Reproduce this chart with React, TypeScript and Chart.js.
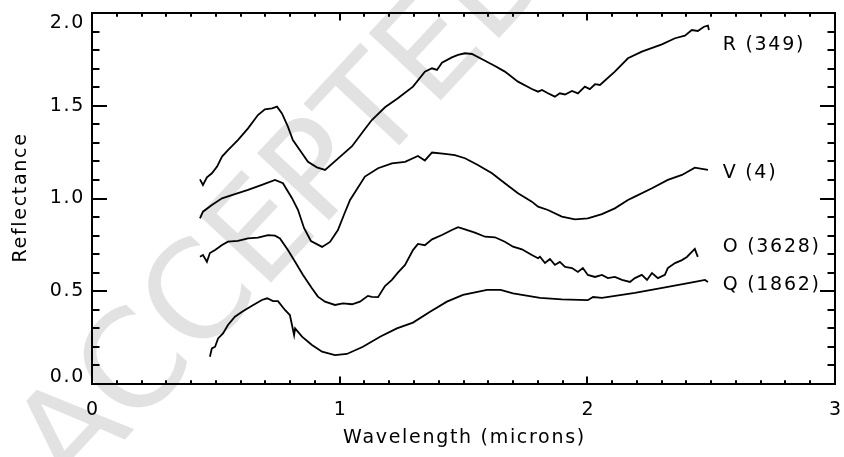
import React, { useEffect, useRef } from "react";
import { Chart, registerables } from "chart.js";

Chart.register(...registerables);

// ---- data (wavelength in microns, reflectance) ----
const rWave = [0.436, 0.448, 0.464, 0.484, 0.505, 0.525, 0.549, 0.589, 0.630, 0.670, 0.698, 0.727, 0.747, 0.767, 0.791, 0.811, 0.848, 0.872, 0.908, 0.941, 0.993, 1.050, 1.102, 1.130, 1.183, 1.235, 1.296, 1.344, 1.373, 1.393, 1.413, 1.453, 1.478, 1.506, 1.534, 1.587, 1.627, 1.667, 1.720, 1.776, 1.801, 1.817, 1.841, 1.869, 1.889, 1.910, 1.938, 1.962, 1.990, 2.010, 2.031, 2.051, 2.111, 2.164, 2.220, 2.301, 2.354, 2.394, 2.422, 2.446, 2.471, 2.487, 2.491];
const rRefl = [1.103, 1.073, 1.114, 1.136, 1.172, 1.226, 1.261, 1.315, 1.378, 1.450, 1.481, 1.486, 1.495, 1.459, 1.387, 1.315, 1.244, 1.198, 1.168, 1.154, 1.215, 1.282, 1.375, 1.423, 1.492, 1.540, 1.603, 1.684, 1.702, 1.693, 1.732, 1.761, 1.774, 1.783, 1.779, 1.743, 1.714, 1.684, 1.630, 1.590, 1.576, 1.585, 1.567, 1.549, 1.567, 1.561, 1.580, 1.567, 1.603, 1.590, 1.616, 1.612, 1.684, 1.756, 1.792, 1.831, 1.864, 1.878, 1.908, 1.903, 1.926, 1.932, 1.908];

const vWave = [0.436, 0.448, 0.484, 0.525, 0.577, 0.630, 0.686, 0.739, 0.771, 0.807, 0.832, 0.856, 0.884, 0.929, 0.961, 0.993, 1.017, 1.042, 1.102, 1.155, 1.211, 1.264, 1.316, 1.344, 1.373, 1.425, 1.465, 1.506, 1.558, 1.615, 1.667, 1.720, 1.776, 1.801, 1.841, 1.897, 1.950, 2.002, 2.059, 2.111, 2.164, 2.192, 2.261, 2.325, 2.382, 2.434, 2.487];
const vRefl = [0.893, 0.929, 0.965, 1.001, 1.024, 1.046, 1.073, 1.100, 1.082, 1.003, 0.938, 0.841, 0.771, 0.739, 0.766, 0.830, 0.911, 0.992, 1.118, 1.163, 1.189, 1.198, 1.229, 1.205, 1.248, 1.240, 1.234, 1.217, 1.181, 1.136, 1.082, 1.028, 0.983, 0.956, 0.938, 0.902, 0.888, 0.893, 0.916, 0.947, 0.992, 1.010, 1.055, 1.100, 1.127, 1.166, 1.154];

const oWave = [0.436, 0.448, 0.464, 0.476, 0.497, 0.525, 0.549, 0.589, 0.630, 0.670, 0.711, 0.739, 0.759, 0.791, 0.820, 0.852, 0.888, 0.912, 0.941, 0.981, 1.013, 1.050, 1.082, 1.114, 1.130, 1.155, 1.183, 1.211, 1.235, 1.264, 1.296, 1.316, 1.344, 1.373, 1.413, 1.453, 1.478, 1.506, 1.546, 1.587, 1.627, 1.667, 1.700, 1.736, 1.776, 1.801, 1.809, 1.829, 1.849, 1.869, 1.889, 1.910, 1.938, 1.962, 1.982, 2.002, 2.031, 2.059, 2.083, 2.111, 2.140, 2.172, 2.192, 2.220, 2.241, 2.261, 2.285, 2.313, 2.325, 2.354, 2.382, 2.402, 2.422, 2.434, 2.446];
const oRefl = [0.686, 0.695, 0.659, 0.706, 0.722, 0.749, 0.767, 0.771, 0.785, 0.789, 0.803, 0.800, 0.785, 0.722, 0.659, 0.588, 0.516, 0.471, 0.444, 0.426, 0.435, 0.430, 0.444, 0.475, 0.470, 0.468, 0.528, 0.561, 0.600, 0.642, 0.722, 0.755, 0.748, 0.780, 0.803, 0.830, 0.845, 0.834, 0.816, 0.794, 0.791, 0.767, 0.740, 0.726, 0.695, 0.678, 0.686, 0.652, 0.674, 0.642, 0.658, 0.631, 0.625, 0.604, 0.625, 0.588, 0.577, 0.588, 0.571, 0.577, 0.561, 0.550, 0.571, 0.588, 0.561, 0.598, 0.571, 0.588, 0.625, 0.652, 0.668, 0.685, 0.712, 0.728, 0.685];

const qWave = [0.476, 0.484, 0.497, 0.509, 0.529, 0.549, 0.577, 0.606, 0.646, 0.686, 0.707, 0.731, 0.751, 0.779, 0.799, 0.816, 0.820, 0.848, 0.888, 0.929, 0.981, 1.029, 1.094, 1.163, 1.231, 1.296, 1.365, 1.433, 1.498, 1.595, 1.650, 1.700, 1.809, 1.897, 2.002, 2.023, 2.059, 2.192, 2.325, 2.434, 2.475, 2.487];
const qRefl = [0.147, 0.192, 0.201, 0.246, 0.273, 0.318, 0.363, 0.390, 0.422, 0.453, 0.462, 0.447, 0.447, 0.399, 0.372, 0.264, 0.300, 0.255, 0.210, 0.174, 0.156, 0.162, 0.201, 0.255, 0.300, 0.331, 0.390, 0.444, 0.480, 0.507, 0.507, 0.489, 0.464, 0.456, 0.452, 0.469, 0.464, 0.491, 0.523, 0.550, 0.561, 0.550];

const seriesNames = ["R (349)", "V (4)", "O (3628)", "Q (1862)"];
const labelWave = 2.547;
const labelRefl = [1.827, 1.137, 0.739, 0.534];

const xMajorTicks = [0, 1, 2, 3];
const yMajorTicks = [0.0, 0.5, 1.0, 1.5, 2.0];
const xTitle = "Wavelength (microns)";
const yTitle = "Reflectance";
const watermarkText = "ACCEPTED MANUSCRIPT";

const FONT = "'DejaVu Sans', sans-serif";

function toPoints(xs: number[], ys: number[]) {
  return xs.map((x, i) => ({ x, y: ys[i] }));
}

const watermarkPlugin = {
  id: "watermark",
  beforeDatasetsDraw(chart: any) {
    const ctx = chart.ctx as CanvasRenderingContext2D;
    ctx.save();
    ctx.translate(72, 496);
    ctx.rotate((-47 * Math.PI) / 180);
    ctx.font = `135px ${FONT}`;
    ctx.fillStyle = "#e2e2e2";
    ctx.textAlign = "left";
    ctx.textBaseline = "alphabetic";
    ctx.fillText(watermarkText, 0, 0);
    ctx.restore();
  },
};

const axesPlugin = {
  id: "idlAxes",
  afterDatasetsDraw(chart: any) {
    const ctx = chart.ctx as CanvasRenderingContext2D;
    const { left, right, top, bottom } = chart.chartArea;
    const xs = chart.scales.x;
    const ys = chart.scales.y;
    ctx.save();
    ctx.strokeStyle = "#000";
    ctx.fillStyle = "#000";
    ctx.lineWidth = 2;
    ctx.lineCap = "butt";
    ctx.strokeRect(left, top, right - left, bottom - top);

    // x ticks (inward, bottom and top)
    ctx.beginPath();
    for (let i = 0; i <= 30; i++) {
      const px = Math.round(xs.getPixelForValue(i / 10));
      const len = i % 10 === 0 ? 7.5 : 3.8;
      ctx.moveTo(px, bottom);
      ctx.lineTo(px, bottom - len);
      ctx.moveTo(px, top);
      ctx.lineTo(px, top + len);
    }
    // y ticks (inward, left and right)
    for (let i = 0; i <= 20; i++) {
      const py = Math.round(ys.getPixelForValue(i / 10));
      const len = i % 5 === 0 ? 15 : 7.5;
      ctx.moveTo(left, py);
      ctx.lineTo(left + len, py);
      ctx.moveTo(right, py);
      ctx.lineTo(right - len, py);
    }
    ctx.stroke();

    ctx.font = `19px ${FONT}`;
    (ctx as any).letterSpacing = "1.7px";
    // x tick labels
    ctx.textAlign = "center";
    ctx.textBaseline = "middle";
    xMajorTicks.forEach((v) => {
      ctx.fillText(String(v), xs.getPixelForValue(v) + 1, 410);
    });
    // y tick labels
    ctx.textAlign = "right";
    yMajorTicks.forEach((v) => {
      let py = ys.getPixelForValue(v);
      py = Math.min(Math.max(py, top + 10), bottom - 7);
      ctx.fillText(v.toFixed(1), 85, py);
    });
    // axis titles
    ctx.textAlign = "center";
    ctx.fillText(xTitle, (left + right) / 2 + 1, 438);
    ctx.save();
    ctx.translate(21, (top + bottom) / 2);
    ctx.rotate(-Math.PI / 2);
    ctx.fillText(yTitle, 1, 0);
    ctx.restore();
    // series labels
    ctx.textAlign = "left";
    seriesNames.forEach((name, i) => {
      ctx.fillText(name, xs.getPixelForValue(labelWave), ys.getPixelForValue(labelRefl[i]));
    });
    ctx.restore();
  },
};

export default function App() {
  const canvasRef = useRef<HTMLCanvasElement | null>(null);

  useEffect(() => {
    const canvas = canvasRef.current;
    if (!canvas) return;
    const mk = (xs: number[], ys: number[], label: string) => ({
      label,
      data: toPoints(xs, ys),
      borderColor: "#000",
      borderWidth: 1.8,
      pointRadius: 0,
      tension: 0,
      fill: false,
    });
    const chart = new Chart(canvas, {
      type: "line",
      data: {
        datasets: [
          mk(rWave, rRefl, seriesNames[0]),
          mk(vWave, vRefl, seriesNames[1]),
          mk(oWave, oRefl, seriesNames[2]),
          mk(qWave, qRefl, seriesNames[3]),
        ],
      },
      options: {
        responsive: false,
        animation: false,
        devicePixelRatio: 1,
        layout: { padding: { left: 92, right: 9, top: 13, bottom: 73 } },
        plugins: { legend: { display: false }, tooltip: { enabled: false } },
        scales: {
          x: { type: "linear", min: 0, max: 3, display: false },
          y: { type: "linear", min: 0, max: 2, display: false },
        },
      },
      plugins: [watermarkPlugin, axesPlugin],
    });
    return () => chart.destroy();
  }, []);

  return (
    <div style={{ position: "fixed", left: 0, top: 0, width: 844, height: 457, background: "#fff" }}>
      <canvas ref={canvasRef} width={844} height={457} style={{ display: "block" }} />
    </div>
  );
}
